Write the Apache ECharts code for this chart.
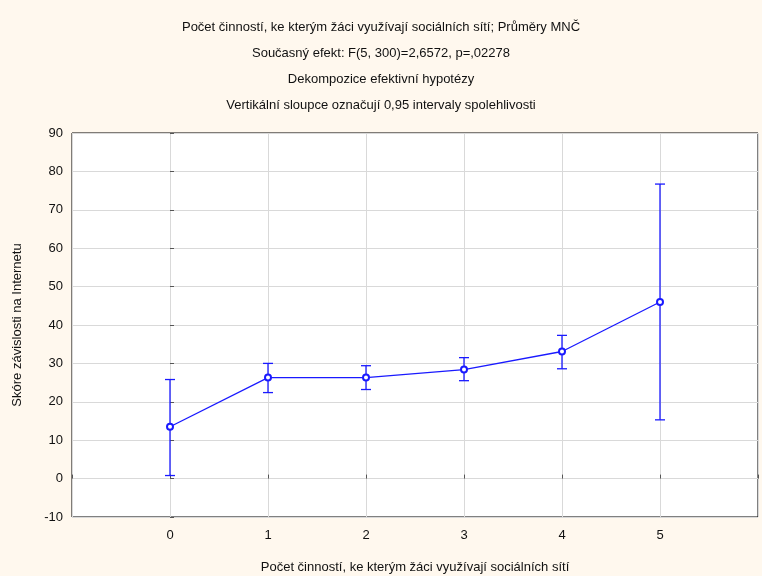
<!DOCTYPE html>
<html>
<head>
<meta charset="utf-8">
<script src="https://cdn.jsdelivr.net/npm/echarts@6/dist/echarts.min.js"></script>
<style>
  html, body { margin: 0; padding: 0; background: #fff8ee; }
  #chart { width: 762px; height: 576px; }
</style>
</head>
<body>
<div id="chart"></div>
<script>
// data
const categories = [0, 1, 2, 3, 4, 5];
const means = [13.5, 26.3, 26.3, 28.4, 33.1, 46.0];
const lower = [0.8, 22.4, 23.2, 25.5, 28.6, 15.3];
const upper = [25.8, 30.0, 29.4, 31.5, 37.3, 76.7];

const titleLines = [
  "Počet činností, ke kterým žáci využívají sociálních sítí; Průměry MNČ",
  "Současný efekt: F(5, 300)=2,6572, p=,02278",
  "Dekompozice efektivní hypotézy",
  "Vertikální sloupce označují 0,95 intervaly spolehlivosti"
];

const font = "Liberation Sans, Arial, sans-serif";
const blue = "#1a1aff";

const chart = echarts.init(document.getElementById("chart"));

const option = {
  backgroundColor: "#fff8ee",
  animation: false,
  title: titleLines.map((t, i) => ({
    text: t,
    left: "center",
    top: 16 + i * 26,
    textStyle: { fontFamily: font, fontSize: 13, fontWeight: "normal", color: "#111" }
  })),
  grid: {
    left: 72, right: 4, top: 133, bottom: 59,
    outerBoundsMode: "none",
    show: true, backgroundColor: "#fff", borderColor: "#000", borderWidth: 1
  },
  xAxis: {
    type: "value",
    min: -1, max: 6, interval: 1,
    name: "Počet činností, ke kterým žáci využívají sociálních sítí",
    nameLocation: "middle",
    nameGap: 44,
    nameTextStyle: { fontFamily: font, fontSize: 13, color: "#111" },
    axisLine: { show: false },
    axisTick: { show: true, inside: true, length: 4, lineStyle: { color: "#555" } },
    axisLabel: {
      fontFamily: font, fontSize: 13, color: "#111", margin: 12,
      formatter: (v) => (v >= 0 && v <= 5 ? String(v) : "")
    },
    splitLine: { show: true, lineStyle: { color: "#d9d9d9", width: 1 } }
  },
  yAxis: {
    type: "value",
    min: -10, max: 90, interval: 10,
    name: "Skóre závislosti na Internetu",
    nameLocation: "middle",
    nameGap: 48,
    nameTextStyle: { fontFamily: font, fontSize: 13, color: "#111" },
    axisLine: { show: false },
    axisTick: { show: true, inside: true, length: 4, lineStyle: { color: "#555" } },
    axisLabel: { fontFamily: font, fontSize: 13, color: "#111", margin: 9 },
    splitLine: { show: true, lineStyle: { color: "#d9d9d9", width: 1 } }
  },
  series: [
    {
      type: "custom",
      data: categories.map((c, i) => [c, lower[i], upper[i]]),
      renderItem: (params, api) => {
        const lo = api.coord([api.value(0), api.value(1)]);
        const hi = api.coord([api.value(0), api.value(2)]);
        const w = 5;
        const style = { stroke: blue, lineWidth: 1.3 };
        return {
          type: "group",
          children: [
            { type: "line", shape: { x1: lo[0], y1: lo[1], x2: hi[0], y2: hi[1] }, style },
            { type: "line", shape: { x1: lo[0] - w, y1: lo[1], x2: lo[0] + w, y2: lo[1] }, style },
            { type: "line", shape: { x1: hi[0] - w, y1: hi[1], x2: hi[0] + w, y2: hi[1] }, style }
          ]
        };
      },
      z: 2
    },
    {
      type: "line",
      data: categories.map((c, i) => [c, means[i]]),
      symbol: "emptyCircle",
      symbolSize: 6,
      lineStyle: { color: blue, width: 1.3 },
      itemStyle: { color: blue, borderColor: blue, borderWidth: 1.3 },
      z: 3
    }
  ]
};

chart.setOption(option);
</script>
</body>
</html>
